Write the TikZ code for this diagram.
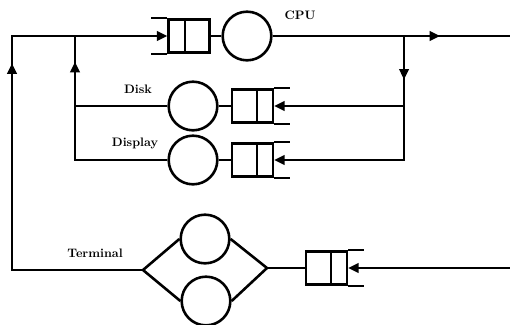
\documentclass[tikz,border=0pt]{standalone}
\usetikzlibrary{arrows.meta, decorations.markings}
\tikzset{
    server/.style={
        circle,
        draw=black,
        minimum size=1.46cm,
        inner sep=0pt,
        line width=2.2pt
    },
    queue/.style={
        rectangle,
        draw=black,
        minimum width=1.22cm,
        minimum height=1cm,
        inner sep=0pt,
        line width=2.2pt,
        path picture={
            \draw[line width=2.2pt] ([xshift=#1]path picture bounding box.north)
                -- ([xshift=#1]path picture bounding box.south);
        }
    },
    flow/.style={
        draw=black,
        line width=2.2pt
    },
    tip/.style={
        -{Triangle[length=9pt, width=8pt]}
    },
    midarrow/.style={
        postaction={decorate},
        decoration={markings,
            mark=at position #1 with {\arrow{Triangle[length=9pt, width=8pt]}}}
    },
    labeltext/.style={
        font=\fontsize{10.5}{12}\selectfont\bfseries
    }
}

\begin{document}
\begin{tikzpicture}[x=0.03cm, y=-0.03cm]
    \useasboundingbox (0,0) rectangle (510,324);

    % Nodes
    \node[queue=-0.12cm] (cpuq) at (189,36) {};
    \node[server] (cpu) at (247,36) {};
    \node[labeltext] (cpulbl) at (300,15) {CPU};

    \node[server] (disk) at (193,106) {};
    \node[queue=0.135cm] (diskq) at (252.5,106) {};
    \node[labeltext] (disklbl) at (138,89) {Disk};

    \node[server] (disp) at (193,160) {};
    \node[queue=0.135cm] (dispq) at (252.5,160) {};
    \node[labeltext] (displbl) at (135,143) {Display};

    \node[server] (termA) at (205,239) {};
    \node[server] (termB) at (206,301) {};
    \node[queue=0.135cm] (termq) at (326.5,268) {};
    \node[labeltext] (termlbl) at (95,253) {Terminal};

    \coordinate (outer) at (12,36);
    \coordinate (inner) at (75,36);
    \coordinate (split) at (404,36);
    \coordinate (cpuout) at (510,36);
    \coordinate (termin) at (510,268);
    \coordinate (termL) at (143,270);
    \coordinate (termR) at (267,268);

    % Open ends of the queues
    \draw[flow] (cpuq.north west) -- ++(-16,0);
    \draw[flow] (cpuq.south west) -- ++(-16,0);
    \draw[flow] (diskq.north east) -- ++(16,0);
    \draw[flow] (diskq.south east) -- ++(16,0);
    \draw[flow] (dispq.north east) -- ++(16,0);
    \draw[flow] (dispq.south east) -- ++(16,0);
    \draw[flow] (termq.north east) -- ++(16,0);
    \draw[flow] (termq.south east) -- ++(16,0);

    % Paths
    \draw[flow] (cpuq) -- (cpu);
    \draw[flow, midarrow=0.706] (cpu.east) -- (cpuout);
    \draw[flow, tip, midarrow=0.218] (split) |- (diskq.east);
    \draw[flow, tip] (split) |- (dispq.east);
    \draw[flow] (diskq) -- (disk);
    \draw[flow] (dispq) -- (disp);
    \draw[flow] (disk.west) -- (disk.west -| inner);
    \draw[flow, midarrow=0.881] (disp.west) -| (inner);
    \draw[flow, tip, midarrow=0.649] (termL) -| (outer) -- (cpuq.west);

    \draw[flow, tip] (termin) -- (termq.east);
    \draw[flow] (termq) -- (termR);
    \draw[flow] (termR) -- (termA.east);
    \draw[flow] (termR) -- (termB.east);
    \draw[flow] (termL) -- (termA.west);
    \draw[flow] (termL) -- (termB.west);

\end{tikzpicture}
\end{document}
